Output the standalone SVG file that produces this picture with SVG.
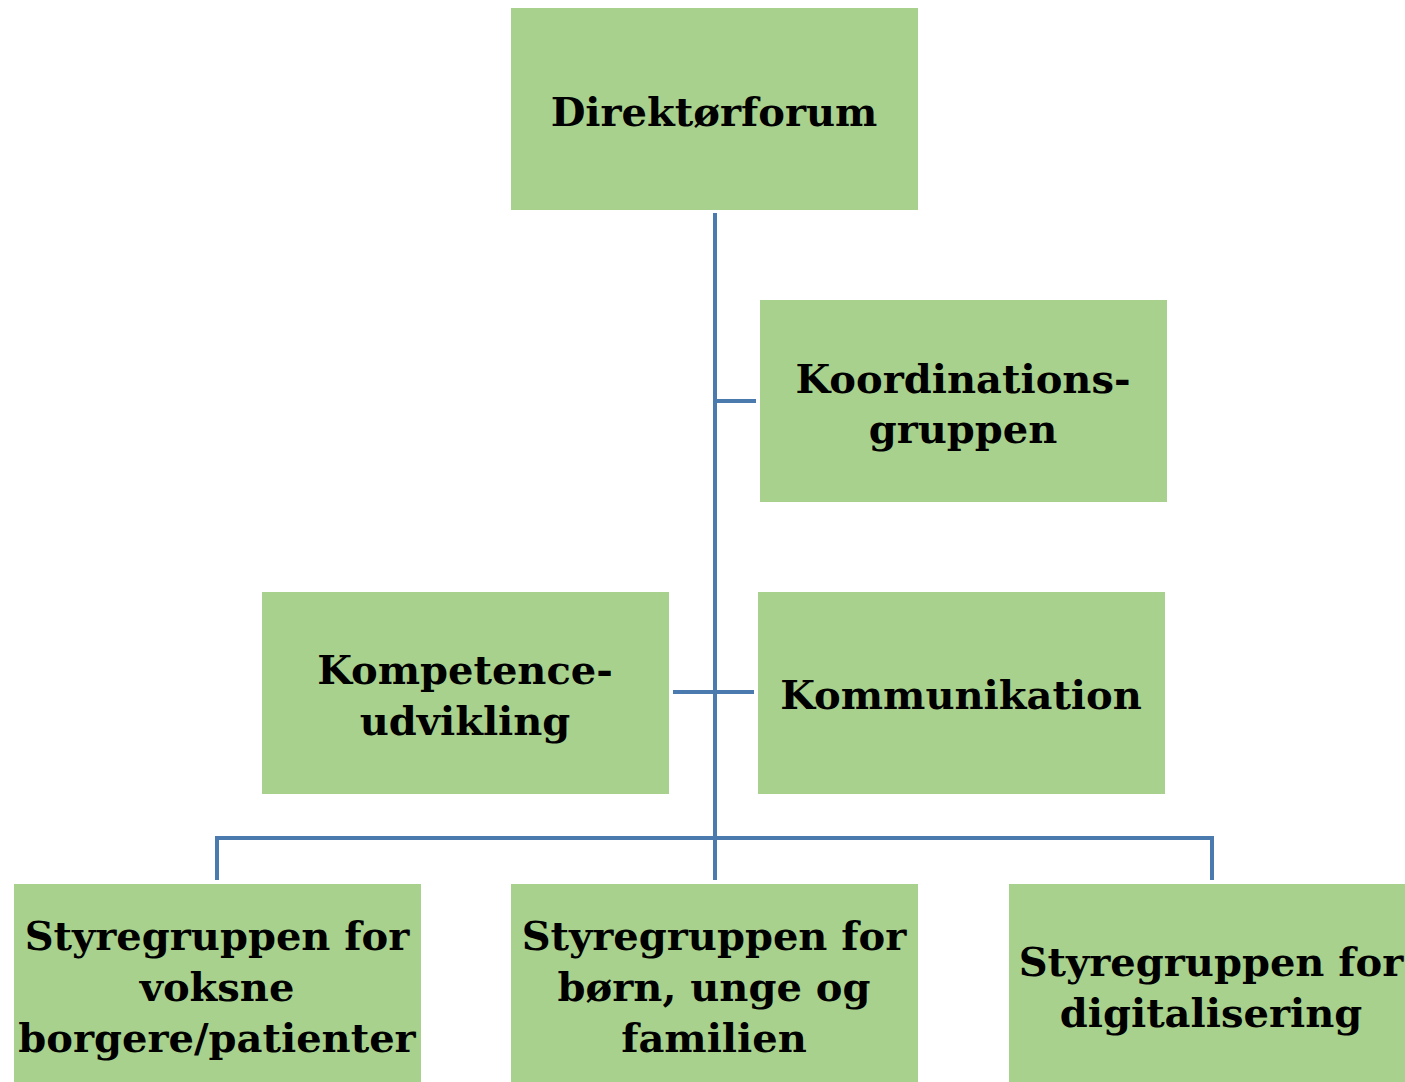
<svg xmlns="http://www.w3.org/2000/svg" width="1405" height="1082" viewBox="0 0 1405 1082">
<style>
.box{fill:#A9D18E}
.t{font-family:"DejaVu Serif","Liberation Serif",serif;font-weight:bold;font-size:40px;fill:#000;text-anchor:middle}
.c{stroke:#4A7AAE;stroke-width:4;fill:none}
</style>
<rect width="1405" height="1082" fill="#fff"/>
<g id="connectors">
<path class="c" d="M715 213V880"/>
<path class="c" d="M715 401H756"/>
<path class="c" d="M673 692H754"/>
<path class="c" d="M217 880V838H1212V880"/>
</g>
<g id="direktorforum"><rect class="box" x="511" y="8" width="407" height="202"/><text class="t" x="714" y="126">Direktørforum</text></g>
<g id="koordinationsgruppen"><rect class="box" x="760" y="300" width="407" height="202"/><text class="t" x="963" y="393">Koordinations-</text><text class="t" x="963" y="443">gruppen</text></g>
<g id="kompetenceudvikling"><rect class="box" x="262" y="592" width="407" height="202"/><text class="t" x="465" y="684">Kompetence-</text><text class="t" x="465" y="735">udvikling</text></g>
<g id="kommunikation"><rect class="box" x="758" y="592" width="407" height="202"/><text class="t" x="961" y="709">Kommunikation</text></g>
<g id="styregruppe-voksne"><rect class="box" x="14" y="884" width="407" height="198"/><text class="t" x="217" y="950">Styregruppen for</text><text class="t" x="217" y="1001">voksne</text><text class="t" x="217" y="1052">borgere/patienter</text></g>
<g id="styregruppe-born"><rect class="box" x="511" y="884" width="407" height="198"/><text class="t" x="714" y="950">Styregruppen for</text><text class="t" x="714" y="1001">børn, unge og</text><text class="t" x="714" y="1052">familien</text></g>
<g id="styregruppe-digital"><rect class="box" x="1009" y="884" width="396" height="198"/><text class="t" x="1211" y="976">Styregruppen for</text><text class="t" x="1211" y="1027">digitalisering</text></g>
</svg>
